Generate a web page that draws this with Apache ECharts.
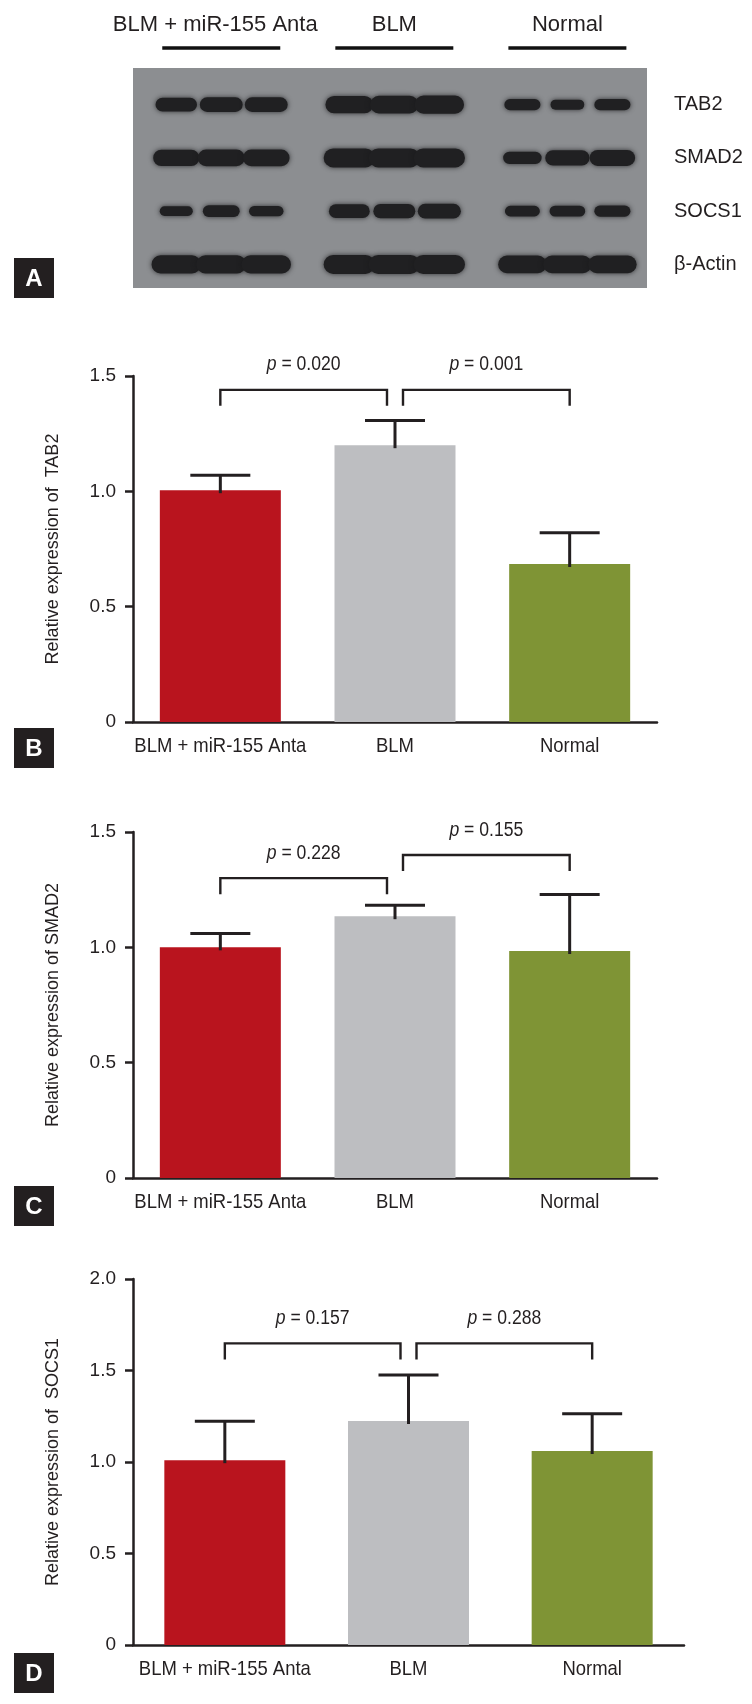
<!DOCTYPE html>
<html><head><meta charset="utf-8">
<script src="https://cdn.jsdelivr.net/npm/echarts@6/dist/echarts.min.js"></script>
<style>html,body{margin:0;padding:0;background:#fff}#c{width:752px;height:1704px}</style>
</head><body><div id="c"></div><script>
// ---------- data ----------
const groups = ['BLM + miR-155 Anta', 'BLM', 'Normal'];
const proteins = ['TAB2', 'SMAD2', 'SOCS1', 'β-Actin'];
// relative band strength of the western blot, 9 lanes (3 per group)
const bandTAB2  = [0.58, 0.64, 0.64, 0.85, 0.88, 0.92, 0.35, 0.25, 0.35];
const bandSMAD2 = [0.78, 0.82, 0.8, 1.0, 1.0, 1.0, 0.45, 0.7, 0.75];
const bandSOCS1 = [0.22, 0.38, 0.28, 0.55, 0.6, 0.65, 0.3, 0.33, 0.35];
const bandActin = [0.92, 0.94, 0.92, 1.0, 1.0, 1.0, 0.88, 0.88, 0.88];

const tab2Mean  = [1.005, 1.20, 0.685];
const tab2Err   = [0.065, 0.107, 0.135];
const smad2Mean = [1.00, 1.135, 0.984];
const smad2Err  = [0.06, 0.047, 0.245];
const socs1Mean = [1.01, 1.224, 1.06];
const socs1Err  = [0.213, 0.252, 0.203];

const tab2P  = ['0.020', '0.001'];
const smad2P = ['0.228', '0.155'];
const socs1P = ['0.157', '0.288'];
const tab2BracketY  = [1.44, 1.44];
const smad2BracketY = [1.30, 1.40];
const socs1BracketY = [1.648, 1.648];

const yMaxB = 1.5, yMaxC = 1.5, yMaxD = 2.0;
const yInterval = 0.5;

// ---------- style ----------
const INK = '#231f20';
const SANS = "'Liberation Sans',Arial,sans-serif";
const barColors = ['#b9141e', '#bdbec1', '#7f9435'];
const laneStep = 0.26;
const CONDENSE = 0.88;

const chart = echarts.init(document.getElementById('c'), null, {renderer: 'canvas'});

function bandData() {
  const rows = [bandTAB2, bandSMAD2, bandSOCS1, bandActin];
  const out = [];
  rows.forEach((row, r) => {
    row.forEach((s, i) => {
      const g = Math.floor(i / 3), l = i % 3;
      out.push([g + (l - 1) * laneStep, r, s]);
    });
  });
  return out;
}

function barGrid(idx, grid, maxV, title, means, errs, pvals, bracketY) {
  const xAxis = {
    gridIndex: idx, type: 'category', data: groups,
    axisLine: {lineStyle: {color: INK, width: 2.5}},
    axisTick: {alignWithLabel: true, length: 8, lineStyle: {color: INK, width: 2.5}},
    axisLabel: {show: false}
  };
  const yAxis = {
    gridIndex: idx, type: 'value', min: 0, max: maxV, interval: yInterval,
    name: title, nameLocation: 'middle', nameRotate: 90, nameGap: 71,
    nameTextStyle: {color: INK, fontFamily: SANS, fontSize: 18},
    axisLine: {show: true, lineStyle: {color: INK, width: 2.5}},
    axisTick: {show: true, length: 8, lineStyle: {color: INK, width: 2.5}},
    splitLine: {show: false},
    axisLabel: {color: INK, fontFamily: SANS, fontSize: 19, margin: 17,
      formatter: v => v === 0 ? '0' : v.toFixed(1)}
  };
  const series = [
    {
      type: 'bar', xAxisIndex: idx, yAxisIndex: idx, barWidth: 121, z: 2,
      data: means.map((v, i) => ({value: v, itemStyle: {color: barColors[i]}}))
    },
    {
      // category labels (condensed)
      type: 'custom', xAxisIndex: idx, yAxisIndex: idx, z: 3,
      data: groups.map((g, i) => [i, 0]),
      renderItem: (params, api) => {
        const c = api.coord([api.value(0), 0]);
        return {type: 'text', x: c[0], y: c[1] + 14, scaleX: CONDENSE, style: {
          text: groups[params.dataIndex], align: 'center', verticalAlign: 'top',
          fill: INK, font: '21px ' + SANS}};
      }
    },
    {
      type: 'custom', xAxisIndex: idx, yAxisIndex: idx, z: 3,
      data: means.map((v, i) => [i, v, v + errs[i]]),
      renderItem: (params, api) => {
        const b = api.coord([api.value(0), api.value(1)]);
        const t = api.coord([api.value(0), api.value(2)]);
        const st = {stroke: INK, lineWidth: 3};
        return {type: 'group', children: [
          {type: 'line', shape: {x1: b[0], y1: b[1] + 3, x2: t[0], y2: t[1]}, style: st},
          {type: 'line', shape: {x1: t[0] - 30, y1: t[1], x2: t[0] + 30, y2: t[1]}, style: st}
        ]};
      }
    },
    {
      type: 'custom', xAxisIndex: idx, yAxisIndex: idx, z: 3,
      data: bracketY.map((y, i) => [i, i + 1, y]),
      renderItem: (params, api) => {
        const from = api.value(0), to = api.value(1);
        const a = api.coord([from, api.value(2)]);
        const b = api.coord([to, api.value(2)]);
        const x1 = a[0] + (from === 1 ? 8 : 0);
        const x2 = b[0] - (to === 1 ? 8 : 0);
        const y = a[1], leg = 16;
        const st = {stroke: INK, lineWidth: 2.4, fill: null};
        return {type: 'group', children: [
          {type: 'polyline', shape: {points: [[x1, y + leg], [x1, y], [x2, y], [x2, y + leg]]}, style: st},
          {type: 'text', x: (x1 + x2) / 2, y: y - 25, scaleX: 0.88, style: {
            text: '{i|p} = ' + pvals[params.dataIndex], align: 'center', verticalAlign: 'middle',
            fill: INK, font: '20px ' + SANS,
            rich: {i: {fontStyle: 'italic', fontFamily: SANS, fontSize: 20, fill: INK}}
          }}
        ]};
      }
    }
  ];
  return {grid, xAxis, yAxis, series};
}

const gB = barGrid(1, {left: 133, top: 376, width: 524, height: 346}, yMaxB,
  'Relative expression of  TAB2', tab2Mean, tab2Err, tab2P, tab2BracketY);
const gC = barGrid(2, {left: 133, top: 832, width: 524, height: 346}, yMaxC,
  'Relative expression of SMAD2', smad2Mean, smad2Err, smad2P, smad2BracketY);
const gD = barGrid(3, {left: 133, top: 1279, width: 551, height: 366}, yMaxD,
  'Relative expression of  SOCS1', socs1Mean, socs1Err, socs1P, socs1BracketY);

function panelLabel(letter, x, y) {
  return {type: 'group', x, y, children: [
    {type: 'rect', shape: {x: 0, y: 0, width: 40, height: 40}, style: {fill: INK}},
    {type: 'text', x: 20, y: 21, style: {text: letter, align: 'center', verticalAlign: 'middle',
      fill: '#fff', font: 'bold 24px ' + SANS}}
  ]};
}

const option = {
  animation: false,
  backgroundColor: '#fff',
  grid: [
    {left: 133, top: 78, width: 514, height: 213},
    gB.grid, gC.grid, gD.grid
  ],
  xAxis: [
    {gridIndex: 0, type: 'value', min: -0.51, max: 2.46, show: false},
    gB.xAxis, gC.xAxis, gD.xAxis
  ],
  yAxis: [
    {gridIndex: 0, type: 'category', data: proteins, inverse: true, position: 'right',
      axisLine: {show: false}, axisTick: {show: false}, splitLine: {show: false},
      axisLabel: {color: INK, fontFamily: SANS, fontSize: 20, margin: 27}},
    gB.yAxis, gC.yAxis, gD.yAxis
  ],
  graphic: [
    {type: 'rect', shape: {x: 133, y: 68, width: 514, height: 220}, z: -10,
      style: {fill: '#8c8e91'}},
    panelLabel('A', 14, 258),
    panelLabel('B', 14, 728),
    panelLabel('C', 14, 1186),
    panelLabel('D', 14, 1653)
  ],
  series: [
    {
      type: 'custom', xAxisIndex: 0, yAxisIndex: 0, z: 5,
      data: bandData(),
      renderItem: (params, api) => {
        const c = api.coord([api.value(0), api.value(1)]);
        const s = api.value(2);
        const h = 7 + 12 * s, w = 45 * (0.62 + 0.52 * s);
        return {type: 'rect', shape: {x: c[0] - w / 2, y: c[1] - h / 2, width: w, height: h, r: h / 2},
          style: {fill: '#202022', shadowBlur: 5, shadowColor: 'rgba(25,25,28,0.8)'}};
      }
    },
    {
      type: 'custom', xAxisIndex: 0, yAxisIndex: 0, z: 5,
      data: groups.map((g, i) => [i, 0]),
      renderItem: (params, api) => {
        const c = api.coord([api.value(0), 0]);
        const top = params.coordSys.y;
        return {type: 'group', children: [
          {type: 'line', shape: {x1: c[0] - 59, y1: top - 30, x2: c[0] + 59, y2: top - 30},
            style: {stroke: '#111', lineWidth: 3.5}},
          {type: 'text', x: c[0] - (params.dataIndex === 0 ? 6 : 0), y: top - 53, style: {
            text: groups[params.dataIndex], align: 'center', verticalAlign: 'middle',
            fill: INK, font: '22px ' + SANS}}
        ]};
      }
    },
    ...gB.series, ...gC.series, ...gD.series
  ]
};
chart.setOption(option);
</script></body></html>
